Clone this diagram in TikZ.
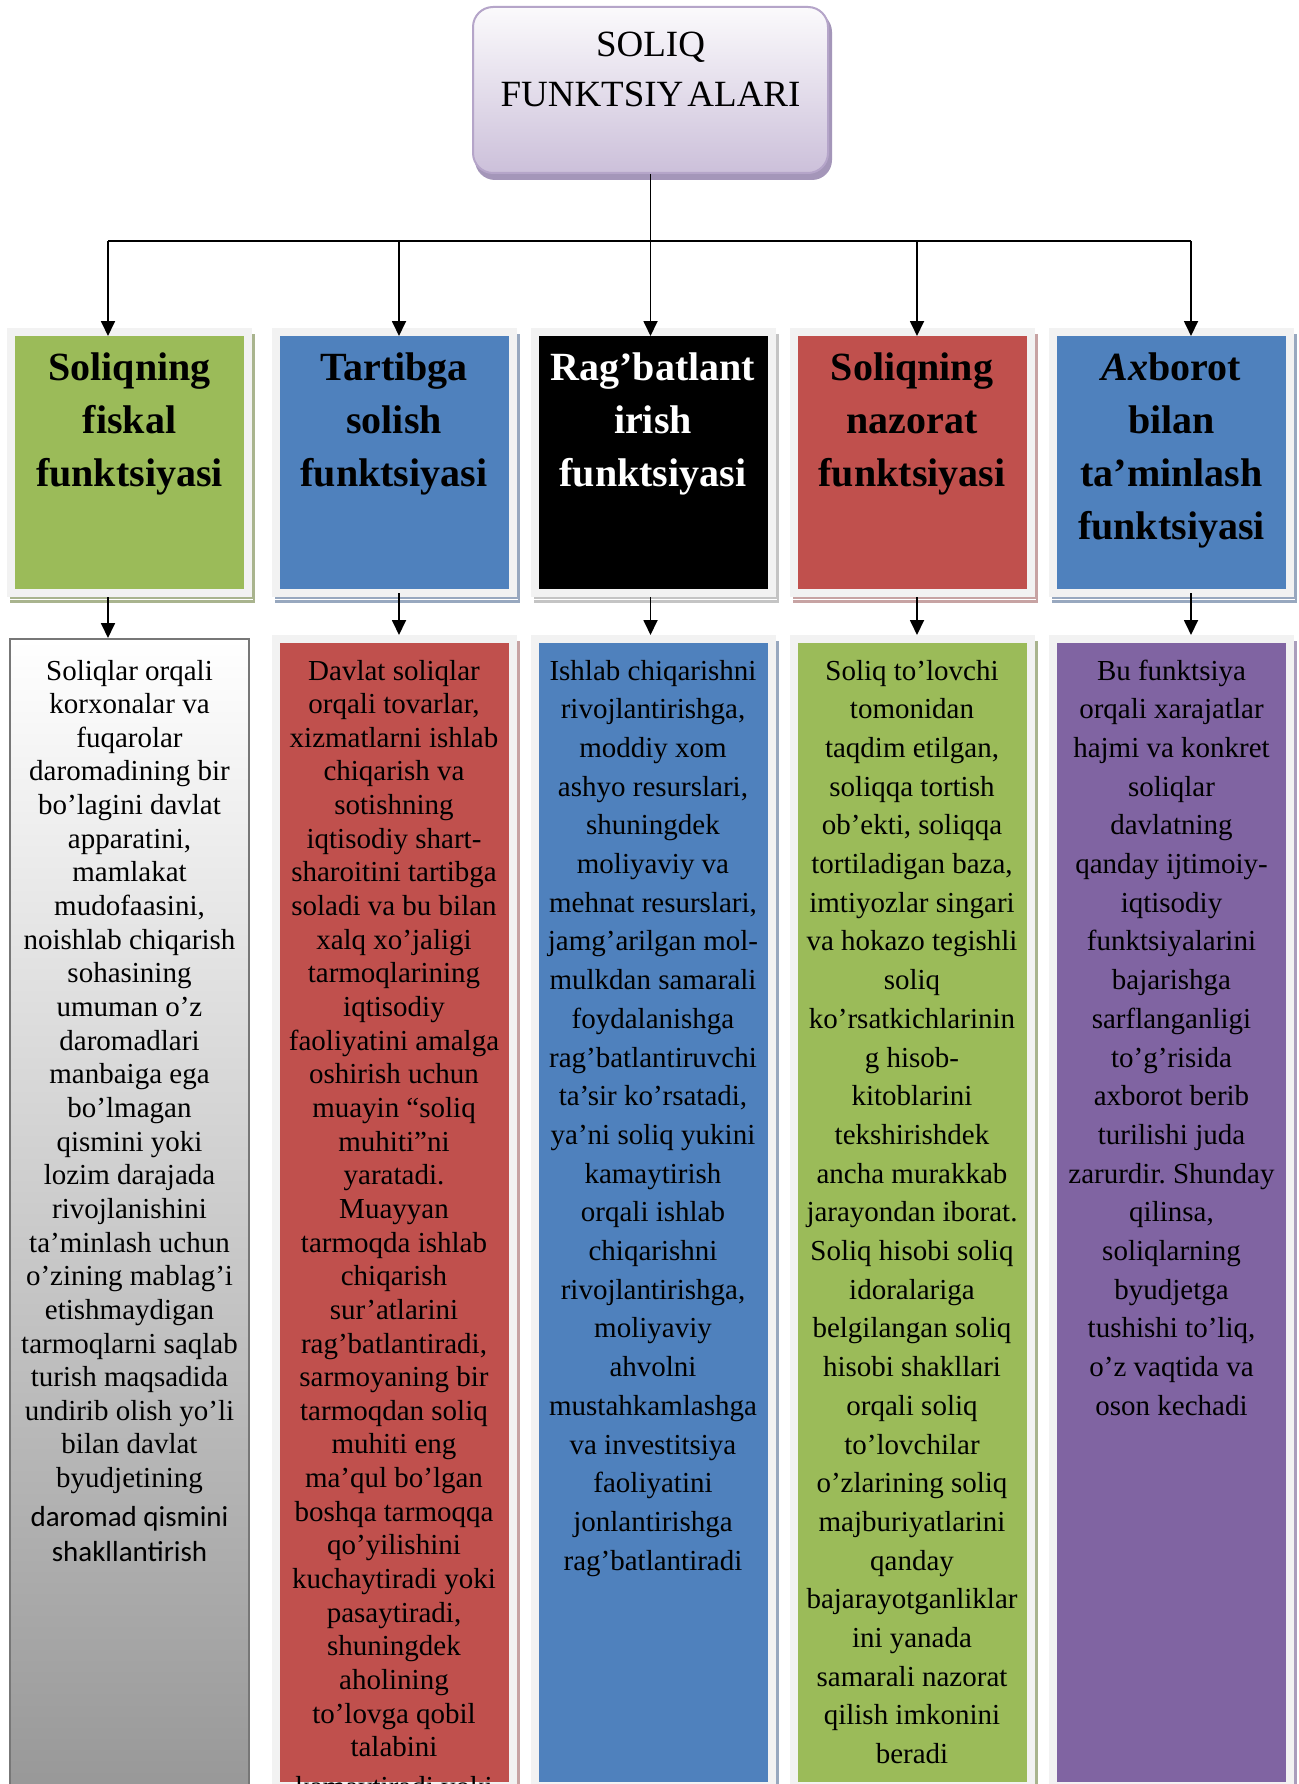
\documentclass[tikz,border=0pt]{standalone}
\usepackage{fontspec}
\setmainfont{Liberation Serif}
\newfontfamily\calibrilike{Carlito}
\usetikzlibrary{arrows.meta,calc,backgrounds}
\frenchspacing

\definecolor{fgreen}{HTML}{9BBB59}
\definecolor{fblue}{HTML}{4F81BD}
\definecolor{fred}{HTML}{C0504D}
\definecolor{fpurple}{HTML}{8064A2}
\definecolor{framegrey}{HTML}{F2F2F2}
\definecolor{gsh}{HTML}{A9B48E}
\definecolor{bsh}{HTML}{98A8BF}
\definecolor{ksh}{HTML}{C4C4C4}
\definecolor{rsh}{HTML}{C7A3A3}
\definecolor{psh}{HTML}{AA9DBC}
\definecolor{tbtop}{HTML}{FBFAFC}
\definecolor{tbmid}{HTML}{E9E2EF}
\definecolor{tbbot}{HTML}{CCC0DA}
\definecolor{tbline}{HTML}{B5A5C9}
\definecolor{tbshadow}{HTML}{A496B9}
\definecolor{cardline}{HTML}{777777}
\definecolor{cardbot}{HTML}{979797}

\newcommand\panelpar[2]{\parbox[t]{#1}{\centering #2}}

\tikzset{
  topbox/.style={rectangle, rounded corners=20pt, draw=tbline, line width=2pt,
    top color=tbtop, middle color=tbmid, bottom color=tbbot,
    minimum width=355pt, minimum height=166pt, inner sep=0pt},
  toptext/.style={anchor=base, inner sep=0pt, font=\fontsize{37}{50}\selectfont},
  head/.style={rectangle, inner sep=0pt, outer sep=0pt,
    minimum width=229pt, minimum height=253pt},
  panel/.style={rectangle, inner sep=0pt, outer sep=0pt,
    minimum width=229pt, minimum height=1139pt},
  greycard/.style={rectangle, inner sep=0pt, outer sep=0pt, draw=cardline,
    line width=2pt, top color=white, bottom color=cardbot,
    minimum width=239pt, minimum height=1161pt},
  hdtext/.style={anchor=base, inner sep=0pt, font=\fontsize{40}{53.3}\selectfont\bfseries},
  bdtight/.style={anchor=base, inner sep=0pt, font=\fontsize{29}{33.65}\selectfont},
  bdloose/.style={anchor=base, inner sep=0pt, font=\fontsize{29}{38.7}\selectfont},
  busline/.style={line width=2.4pt},
  arr/.style={line width=1.8pt, -{Triangle[length=15pt,width=14pt]}}
}

\begin{document}
\begin{tikzpicture}[x=1pt,y=-1pt]
\begin{scope}[on background layer]
  \fill[white] (0,0) rectangle (1298,1784);
\end{scope}
\useasboundingbox (0,0) rectangle (1298,1784);

% title box
\node[topbox] (tb) at (650.5,90) {};
\node[toptext] at ($(tb.north)+(0,51)$) {\panelpar{345pt}{SOLIQ\\FUNKTSIY\kern4pt ALARI}};

% function headers
\node[head, fill=fgreen] (h1) at (129.5,462.5) {};
\node[head, fill=fblue]  (h2) at (394,462.5) {};
\node[head, fill=black]  (h3) at (653,462.5) {};
\node[head, fill=fred]   (h4) at (912,462.5) {};
\node[head, fill=fblue]  (h5) at (1171.5,462.5) {};

\node[hdtext] at ($(h1.north)+(0,44)$) {\panelpar{240pt}{Soliqning\\fiskal\\funktsiyasi}};
\node[hdtext] at ($(h2.north)+(0,44)$) {\panelpar{240pt}{Tartibga\\solish\\funktsiyasi}};
\node[hdtext, text=white] at ($(h3.north)+(0,44)$) {\panelpar{240pt}{Rag’batlant\\irish\\funktsiyasi}};
\node[hdtext] at ($(h4.north)+(0,44)$) {\panelpar{240pt}{Soliqning\\nazorat\\funktsiyasi}};
\node[hdtext] at ($(h5.north)+(0,44)$) {\panelpar{240pt}{\textit{Ax}borot\\bilan\\ta’minlash\\funktsiyasi}};

% description columns
\node[greycard] (b1) at (129.5,1219.5) {};
\node[panel, fill=fred]    (b2) at (394,1212.5) {};
\node[panel, fill=fblue]   (b3) at (653,1212.5) {};
\node[panel, fill=fgreen]  (b4) at (912,1212.5) {};
\node[panel, fill=fpurple] (b5) at (1171.5,1212.5) {};

\node[bdtight] at ($(b1.north)+(0,41)$) {\panelpar{250pt}{Soliqlar orqali\\korxonalar va\\fuqarolar\\daromadining bir\\bo’lagini davlat\\apparatini,\\mamlakat\\mudofaasini,\\noishlab chiqarish\\sohasining\\umuman o’z\\daromadlari\\manbaiga ega\\bo’lmagan\\qismini yoki\\lozim darajada\\rivojlanishini\\ta’minlash uchun\\o’zining mablag’i\\etishmaydigan\\tarmoqlarni saqlab\\turish maqsadida\\undirib olish yo’li\\bilan davlat\\byudjetining\par\vspace{4pt}\calibrilike\fontsize{29}{35}\selectfont daromad qismini\\shakllantirish}};

\node[bdtight] at ($(b2.north)+(0,37)$) {\panelpar{250pt}{Davlat soliqlar\\orqali tovarlar,\\xizmatlarni ishlab\\chiqarish va\\sotishning\\iqtisodiy shart-\\sharoitini tartibga\\soladi va bu bilan\\xalq xo’jaligi\\tarmoqlarining\\iqtisodiy\\faoliyatini amalga\\oshirish uchun\\muayin “soliq\\muhiti”ni\\yaratadi.\\Muayyan\\tarmoqda ishlab\\chiqarish\\sur’atlarini\\rag’batlantiradi,\\sarmoyaning bir\\tarmoqdan soliq\\muhiti eng\\ma’qul bo’lgan\\boshqa tarmoqqa\\qo’yilishini\\kuchaytiradi yoki\\pasaytiradi,\\shuningdek\\aholining\\to’lovga qobil\\talabini\\[6pt]kamaytiradi yoki}};

\node[bdloose] at ($(b3.north)+(0,37)$) {\panelpar{250pt}{Ishlab chiqarishni\\rivojlantirishga,\\moddiy xom\\ashyo resurslari,\\shuningdek\\moliyaviy va\\mehnat resurslari,\\jamg’arilgan mol-\\mulkdan samarali\\foydalanishga\\rag’batlantiruvchi\\ta’sir ko’rsatadi,\\ya’ni soliq yukini\\kamaytirish\\orqali ishlab\\chiqarishni\\rivojlantirishga,\\moliyaviy\\ahvolni\\mustahkamlashga\\va investitsiya\\faoliyatini\\jonlantirishga\\rag’batlantiradi}};

\node[bdloose] at ($(b4.north)+(0,37)$) {\panelpar{250pt}{Soliq to’lovchi\\tomonidan\\taqdim etilgan,\\soliqqa tortish\\ob’ekti, soliqqa\\tortiladigan baza,\\imtiyozlar singari\\va hokazo tegishli\\soliq\\ko’rsatkichlarinin\\g hisob-\\kitoblarini\\tekshirishdek\\ancha murakkab\\jarayondan iborat.\\Soliq hisobi soliq\\idoralariga\\belgilangan soliq\\hisobi shakllari\\orqali soliq\\to’lovchilar\\o’zlarining soliq\\majburiyatlarini\\qanday\\bajarayotganliklar\\ini yanada\\samarali nazorat\\qilish imkonini\\beradi}};

\node[bdloose] at ($(b5.north)+(0,37)$) {\panelpar{250pt}{Bu funktsiya\\orqali xarajatlar\\hajmi va konkret\\soliqlar\\davlatning\\qanday ijtimoiy-\\iqtisodiy\\funktsiyalarini\\bajarishga\\sarflanganligi\\to’g’risida\\axborot berib\\turilishi juda\\zarurdir. Shunday\\qilinsa,\\soliqlarning\\byudjetga\\tushishi to’liq,\\o’z vaqtida va\\oson kechadi}};

% frames and drop shadows behind the coloured panels
\begin{scope}[on background layer]
  \fill[tbshadow, rounded corners=20pt] ($(tb.north west)+(3,6)$) rectangle ($(tb.south east)+(3,6)$);
  \foreach \n/\c in {h1/gsh,h2/bsh,h3/ksh,h4/rsh,h5/bsh}{
    \fill[fill=\c] ($(\n.north west)+(-5,-2)$) rectangle ($(\n.south east)+(11,14)$);
    \fill[framegrey] ($(\n.north west)+(-8,-8)$) rectangle ($(\n.south east)+(8,8)$);
    \draw[white, line width=1pt] ($(\n.south west)+(-6,10)$) -- ($(\n.south east)+(9,10)$);
  }
  \foreach \n/\c in {b2/rsh,b3/bsh,b4/gsh,b5/psh}{
    \fill[fill=\c] ($(\n.north west)+(-5,-2)$) rectangle ($(\n.south east)+(11,30)$);
    \fill[framegrey] ($(\n.north west)+(-8,-8)$) rectangle ($(\n.south east)+(8,20)$);
  }
\end{scope}

% connectors
\coordinate (j1) at (108,241);
\coordinate (j2) at (399,241);
\coordinate (j3) at (650.5,241);
\coordinate (j4) at (917,241);
\coordinate (j5) at (1191,241);
\draw[busline] (j1) -- (j5);
\draw[line width=1.8pt] (tb.south) -- (j3);
\draw[arr] (j1) -- (j1 |- h1.north);
\draw[arr] (j2) -- (j2 |- h2.north);
\draw[arr] (j3) -- (j3 |- h3.north);
\draw[arr] (j4) -- (j4 |- h4.north);
\draw[arr] (j5) -- (j5 |- h5.north);

\draw[arr] ($(j1 |- h1.south)+(0,8)$) -- ($(j1 |- b1.north)+(0,-1)$);
\draw[arr] ($(j2 |- h2.south)+(0,4)$) -- ($(j2 |- b2.north)+(0,-8)$);
\draw[arr] ($(j3 |- h3.south)+(0,8)$) -- ($(j3 |- b3.north)+(0,-8)$);
\draw[arr] ($(j4 |- h4.south)+(0,8)$) -- ($(j4 |- b4.north)+(0,-8)$);
\draw[arr] ($(j5 |- h5.south)+(0,4)$) -- ($(j5 |- b5.north)+(0,-8)$);
\end{tikzpicture}
\end{document}
